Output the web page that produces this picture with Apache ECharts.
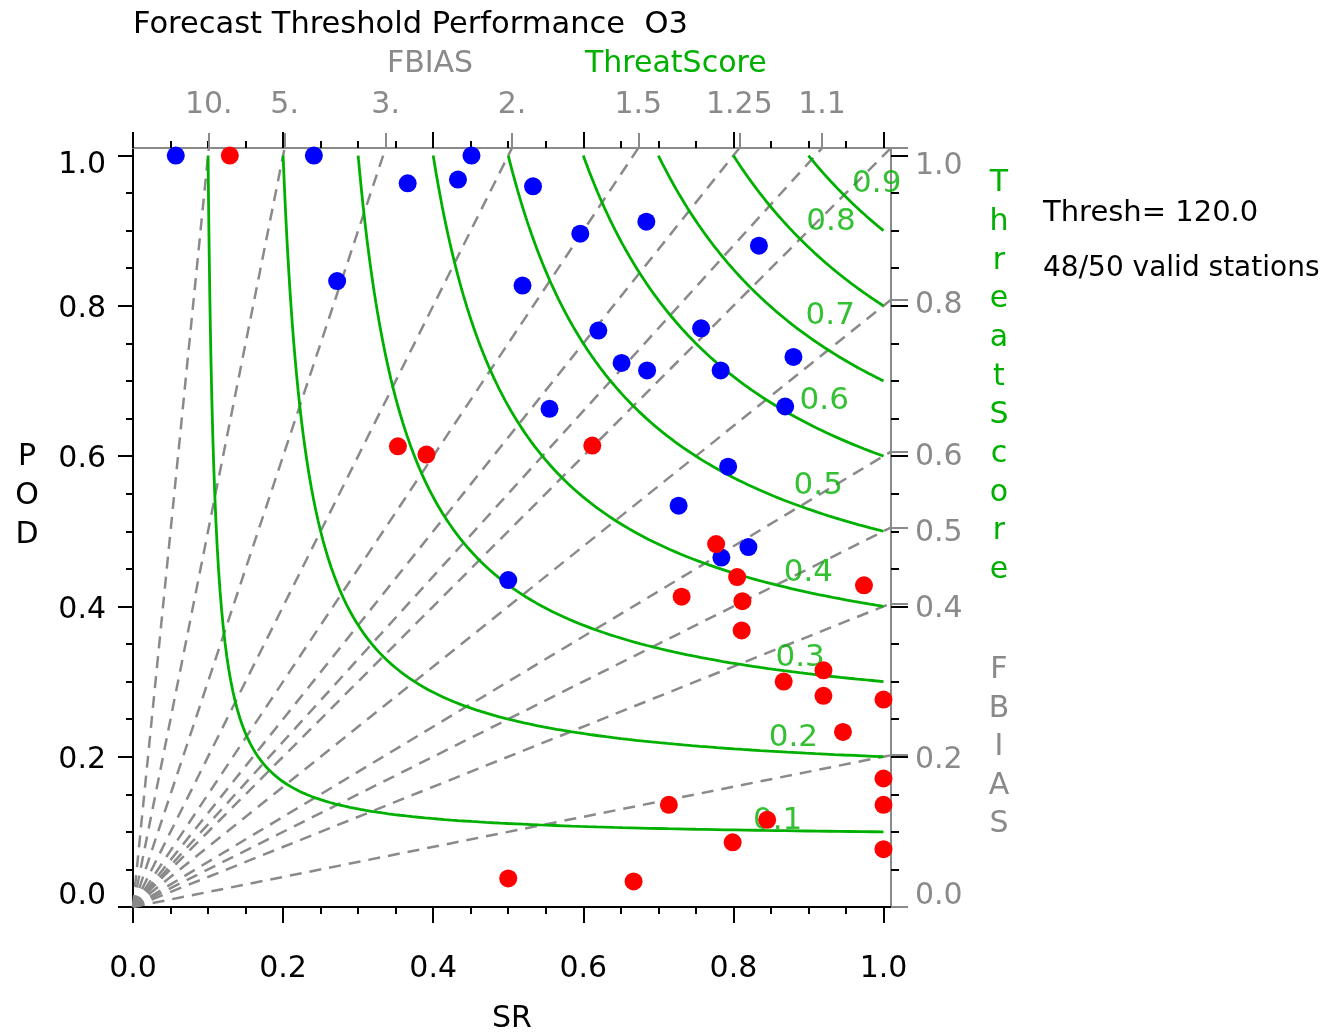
<!DOCTYPE html>
<html><head><meta charset="utf-8">
<script src="https://cdn.jsdelivr.net/npm/echarts@6/dist/echarts.min.js"></script>
<style>html,body{margin:0;padding:0;background:#fff}#c{width:1342px;height:1034px}</style>
</head><body><div id="c"></div>
<script>
// ---- data ----
const blueSR  = [0.057,0.241,0.451,0.366,0.433,0.533,0.272,0.596,0.684,0.834,0.519,0.620,0.757,0.651,0.685,0.783,0.880,0.555,0.869,0.793,0.727,0.820,0.784,0.500];
const bluePOD = [1.000,1.000,1.000,0.963,0.968,0.959,0.833,0.896,0.912,0.880,0.827,0.767,0.770,0.724,0.714,0.714,0.732,0.663,0.666,0.586,0.534,0.479,0.465,0.435];
const redSR   = [0.129,0.353,0.391,0.612,0.777,0.805,0.974,0.731,0.812,0.811,0.920,0.867,0.920,1.000,0.946,1.000,1.000,0.714,0.845,0.799,1.000,0.500,0.667];
const redPOD  = [1.000,0.613,0.602,0.614,0.483,0.439,0.428,0.413,0.407,0.368,0.315,0.300,0.281,0.276,0.233,0.171,0.136,0.136,0.116,0.086,0.077,0.038,0.034];

const threatLevels   = [0.1,0.2,0.3,0.4,0.5,0.6,0.7,0.8,0.9];
const threatLabelSR  = [0.859,0.880,0.889,0.900,0.913,0.921,0.929,0.930,0.991];
const threatLabelPOD = [0.115,0.225,0.332,0.444,0.560,0.673,0.787,0.911,0.962];

const fbiasLines       = [0.2,0.4,0.5,0.6,0.8,1.0,1.1,1.25,1.5,2,3,5,10];
const fbiasTopValues   = [10,5,3,2,1.5,1.25,1.1];
const fbiasTopLabels   = ['10.','5.','3.','2.','1.5','1.25','1.1'];
const fbiasRightValues = [1.0,0.8,0.6,0.5,0.4,0.2,0.0];
const fbiasRightLabels = ['1.0','0.8','0.6','0.5','0.4','0.2','0.0'];

const majorTicks = [0,0.2,0.4,0.6,0.8,1.0];
const minorTicks = [0.05,0.1,0.15,0.25,0.3,0.35,0.45,0.5,0.55,0.65,0.7,0.75,0.85,0.9,0.95];
const EDGE = 1.01;

// ---- styling ----
const FONT = 'DejaVu Sans';
const GRAY = '#8a8a8a';
const GREEN = '#00b000';
const BLACK = '#000000';

const topVals = fbiasTopValues.map(b => EDGE / b);
const rightVals = fbiasRightValues.map(b => EDGE * b);
function lookup(vals, labels, v){
  let best = 0, d = 1e9;
  vals.forEach((x,i)=>{ if (Math.abs(x-v) < d){ d = Math.abs(x-v); best = i; } });
  return labels[best];
}

function axisBase(extra){
  return Object.assign({
    type:'value', min:0, max:EDGE, gridIndex:0,
    splitLine:{show:false},
    axisLine:{show:false, onZero:false},
    axisTick:{show:false},
    axisLabel:{show:false},
    axisPointer:{show:false}
  }, extra);
}
function ticks(vals, len, color){
  return {show:true, customValues:vals, length:len, inside:false, lineStyle:{color:color, width:2}};
}

const xAxes = [
  axisBase({position:'bottom',
    axisLine:{show:true, onZero:false, lineStyle:{color:BLACK, width:2}},
    axisTick:ticks(majorTicks,16,BLACK),
    axisLabel:{show:true, customValues:majorTicks, formatter:v=>v.toFixed(1), margin:47,
      fontSize:30, fontFamily:FONT, color:BLACK},
    name:'SR', nameLocation:'middle', nameGap:112,
    nameTextStyle:{fontSize:30, fontFamily:FONT, color:BLACK, verticalAlign:'middle'}
  }),
  axisBase({position:'bottom', axisTick:ticks(minorTicks,7,BLACK), axisLabel:{show:false, customValues:minorTicks}}),
  axisBase({position:'top',
    axisLine:{show:true, onZero:false, lineStyle:{color:GRAY, width:2}},
    axisTick:ticks(majorTicks,16,BLACK), axisLabel:{show:false, customValues:majorTicks}}),
  axisBase({position:'top', axisTick:ticks(minorTicks,7,BLACK), axisLabel:{show:false, customValues:minorTicks}}),
  axisBase({position:'top', axisTick:ticks(topVals,15,GRAY),
    axisLabel:{show:true, customValues:topVals, formatter:v=>lookup(topVals,fbiasTopLabels,v),
      margin:28, fontSize:30, fontFamily:FONT, color:GRAY}})
];

const yAxes = [
  axisBase({position:'left',
    axisLine:{show:true, onZero:false, lineStyle:{color:BLACK, width:2}},
    axisTick:ticks(majorTicks,15,BLACK),
    axisLabel:{show:true, customValues:majorTicks, margin:27,
      formatter:v=>{const s=v.toFixed(1); if(v<1e-9) return '{lo|'+s+'}'; if(Math.abs(v-1)<1e-9) return '{hi|'+s+'}'; return '{n|'+s+'}';},
      fontSize:30, fontFamily:FONT, color:BLACK,
      rich:{
        n:{fontSize:30, fontFamily:FONT, color:BLACK, padding:[7,0,0,0]},
        hi:{fontSize:30, fontFamily:FONT, color:BLACK, padding:[20,0,0,0]},
        lo:{fontSize:30, fontFamily:FONT, color:BLACK, padding:[0,0,22,0]}
      }}
  }),
  axisBase({position:'left', axisTick:ticks(minorTicks,7,BLACK), axisLabel:{show:false, customValues:minorTicks}}),
  axisBase({position:'right',
    axisLine:{show:true, onZero:false, lineStyle:{color:GRAY, width:2}},
    axisTick:ticks(majorTicks,17,BLACK), axisLabel:{show:false, customValues:majorTicks}}),
  axisBase({position:'right', axisTick:ticks(minorTicks,8,BLACK), axisLabel:{show:false, customValues:minorTicks}}),
  axisBase({position:'right', axisTick:ticks(rightVals,17,GRAY),
    axisLabel:{show:true, customValues:rightVals, margin:24,
      formatter:v=>{const s=lookup(rightVals,fbiasRightLabels,v); if(s==='0.0') return '{lo|'+s+'}'; if(s==='1.0') return '{hi|'+s+'}'; return '{n|'+s+'}';},
      fontSize:30, fontFamily:FONT, color:GRAY,
      rich:{
        n:{fontSize:30, fontFamily:FONT, color:GRAY, padding:[11,0,0,0]},
        hi:{fontSize:30, fontFamily:FONT, color:GRAY, padding:[36,0,0,0]},
        lo:{fontSize:30, fontFamily:FONT, color:GRAY, padding:[0,0,22,0]}
      }}})
];

const series = [];
// frequency-bias reference lines (straight from the origin to the frame)
fbiasLines.forEach(b => {
  const end = b >= 1 ? [EDGE / b, EDGE] : [EDGE, EDGE * b];
  series.push({type:'line', name:'FBIAS '+b, xAxisIndex:0, yAxisIndex:0, data:[[0,0], end],
    showSymbol:false, symbol:'none', silent:true, z:2,
    lineStyle:{color:GRAY, width:2.5, type:[12,8]}});
});
// threat-score (CSI) isolines
threatLevels.forEach(c => {
  const pts = [];
  const n = 120;
  for (let i = 0; i <= n; i++) {
    const t = i / n;
    const sr = c + (1 - c) * t * t;
    const pod = 1 / (1 / c + 1 - 1 / sr);
    pts.push([sr, pod]);
  }
  series.push({type:'line', name:'CSI '+c, xAxisIndex:0, yAxisIndex:0, data:pts,
    showSymbol:false, symbol:'none', silent:true, z:3,
    lineStyle:{color:GREEN, width:2.8}});
});
series.push({type:'scatter', name:'CSI labels', z:4, silent:true,
  symbolSize:1, itemStyle:{color:'rgba(0,0,0,0)'},
  data: threatLevels.map((c,i)=>({name:c.toFixed(1), value:[threatLabelSR[i], threatLabelPOD[i]]})),
  label:{show:true, position:'inside', formatter:'{b}', fontSize:31, fontFamily:FONT, color:GREEN}
});
series.push({type:'scatter', name:'blue', z:6, symbol:'circle', symbolSize:18,
  itemStyle:{color:'#0000ff', opacity:1}, data: blueSR.map((s,i)=>[s, bluePOD[i]])});
series.push({type:'scatter', name:'red', z:6, symbol:'circle', symbolSize:18,
  itemStyle:{color:'#ff0000', opacity:1}, data: redSR.map((s,i)=>[s, redPOD[i]])});

const titleBase = {padding:0, textStyle:{fontFamily:FONT, fontWeight:'normal', fontSize:30}};
function title(text, left, top, color, extra){
  return Object.assign({}, titleBase, {text:text, left:left, top:top,
    textStyle:Object.assign({}, titleBase.textStyle, {color:color}, (extra&&extra.textStyle)||{})},
    extra ? {textAlign:extra.textAlign} : {});
}

const option = {
  animation:false,
  backgroundColor:'#ffffff',
  grid:{left:133, top:148, width:758, height:759, containLabel:false, outerBoundsMode:'none'},
  title:[
    title('Forecast Threshold Performance  O3', 133, 10, BLACK, {textStyle:{fontSize:30.5}}),
    title('FBIAS', 430, 49, GRAY, {textAlign:'center'}),
    title('ThreatScore', 585, 49, GREEN),
    title('Thresh= 120.0', 1043, 199, BLACK, {textStyle:{fontSize:29}}),
    title('48/50 valid stations', 1043, 255, BLACK, {textStyle:{fontSize:28}}),
    title('T\nh\nr\ne\na\nt\nS\nc\no\nr\ne', 999, 164, GREEN, {textAlign:'center', textStyle:{lineHeight:38.7}}),
    title('F\nB\nI\nA\nS', 999, 651, GRAY, {textAlign:'center', textStyle:{lineHeight:38.5}}),
    title('P\nO\nD', 27, 438, BLACK, {textAlign:'center', textStyle:{lineHeight:39}})
  ],
  xAxis:xAxes,
  yAxis:yAxes,
  series:series
};

const chart = echarts.init(document.getElementById('c'), null, {renderer:'canvas'});
chart.setOption(option);
</script>
</body></html>
